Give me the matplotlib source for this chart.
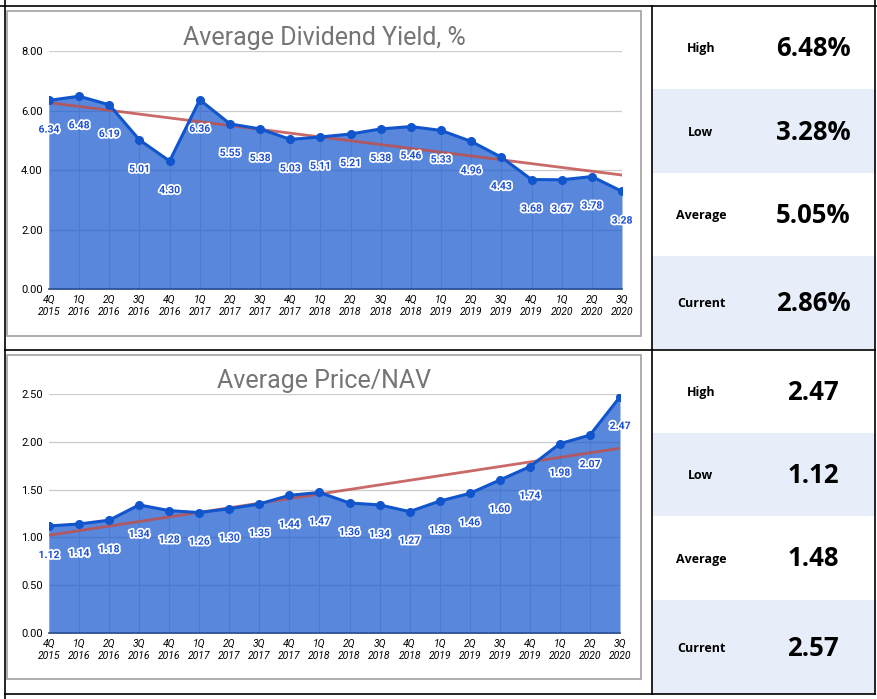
import numpy as np
import matplotlib
matplotlib.use('Agg')
import matplotlib.pyplot as plt
import matplotlib.patheffects as pe
from matplotlib.patches import Rectangle

plt.rcParams['font.family'] = ['Roboto', 'DejaVu Sans']

# data
quarters = ['4Q\n2015', '1Q\n2016', '2Q\n2016', '3Q\n2016', '4Q\n2016',
            '1Q\n2017', '2Q\n2017', '3Q\n2017', '4Q\n2017', '1Q\n2018',
            '2Q\n2018', '3Q\n2018', '4Q\n2018', '1Q\n2019', '2Q\n2019',
            '3Q\n2019', '4Q\n2019', '1Q\n2020', '2Q\n2020', '3Q\n2020']
yield_vals = [6.34, 6.48, 6.19, 5.01, 4.30, 6.36, 5.55, 5.38, 5.03, 5.11,
              5.21, 5.38, 5.46, 5.33, 4.96, 4.43, 3.68, 3.67, 3.78, 3.28]
pnav_vals = [1.12, 1.14, 1.18, 1.34, 1.28, 1.26, 1.30, 1.35, 1.44, 1.47,
             1.36, 1.34, 1.27, 1.38, 1.46, 1.60, 1.74, 1.98, 2.07, 2.47]
stat_names = ['High', 'Low', 'Average', 'Current']
yield_stats = ['6.48%', '3.28%', '5.05%', '2.86%']
pnav_stats = ['2.47', '1.12', '1.48', '2.57']

W, H = 878, 699
fig = plt.figure(figsize=(W / 100, H / 100), dpi=100)

# background layer in pixel coords for the table frame
bg = fig.add_axes([0, 0, 1, 1])
bg.set_xlim(0, W)
bg.set_ylim(H, 0)
bg.axis('off')


def px_axes(l, t, r, b):
    return fig.add_axes([l / W, 1 - b / H, (r - l) / W, (b - t) / H])


def draw_table(rows, values):
    for i, name in enumerate(stat_names):
        top, bot = rows[i], rows[i + 1]
        if i % 2 == 1:
            bg.add_patch(Rectangle((652, top), 223, bot - top, color='#e7eefa', lw=0, zorder=0))
        yc = (top + bot) / 2 + 1
        bg.text(701, yc, name, ha='center', va='center', fontsize=9,
                fontweight='bold', family=['Open Sans', 'DejaVu Sans'], color='black')
        bg.text(813, yc, values[i], ha='center', va='center', fontsize=18.5,
                fontweight='bold', family=['Open Sans', 'DejaVu Sans'], color='black')


draw_table([6, 89, 173, 256, 349], yield_stats)
draw_table([350, 433, 516, 600, 694], pnav_stats)

# table lines
lc = 'black'
bg.plot([0, 878], [6, 6], color=lc, lw=1.2)
bg.plot([5, 875], [349.5, 349.5], color=lc, lw=1.2)
bg.plot([5, 875], [694, 694], color=lc, lw=1.2)
bg.plot([5, 5], [0, 699], color=lc, lw=1.2)
bg.plot([652, 652], [6, 694], color=lc, lw=1.2)
bg.plot([875, 875], [0, 694], color=lc, lw=1.2)

# chart frames
bg.add_patch(Rectangle((7, 11), 634, 325, fill=False, edgecolor='#a0a0a0', lw=1.2))
bg.add_patch(Rectangle((7, 355), 634, 324, fill=False, edgecolor='#a0a0a0', lw=1.2))

bg.text(324, 45, 'Average Dividend Yield, %', ha='center', va='baseline',
        fontsize=18, color='#757575')
bg.text(324, 388, 'Average Price/NAV', ha='center', va='baseline',
        fontsize=18, color='#757575')


def draw_chart(ax, vals, ymax, step):
    x = np.arange(len(vals))
    ax.set_xlim(0, len(vals) - 1)
    ax.set_ylim(0, ymax)
    yt = np.arange(0, ymax + step / 2, step)
    ax.set_yticks(yt)
    ax.set_yticklabels([f'{v:.2f}' for v in yt], fontsize=8, color='black')
    ax.set_xticks(x)
    ax.set_xticklabels(quarters, fontstyle='italic', fontsize=7.5, linespacing=1.3,
                       color='black')
    ax.tick_params(length=0)
    ax.tick_params(axis='y', pad=4.5)
    ax.tick_params(axis='x', pad=4)
    for s in ax.spines.values():
        s.set_visible(False)
    ax.patch.set_alpha(0)
    for v in yt:
        ax.axhline(v, color='#cccccc', lw=0.9, zorder=0)
    # faint vertical lines visible only under the area
    ax.vlines(x, 0, vals, color='#d8d8d8', lw=0.8, zorder=0)
    ax.axhline(0, color='#444444', lw=1.2, zorder=1, clip_on=False)

    ax.fill_between(x, vals, color='#1155cc', alpha=0.7, lw=0, zorder=2)
    coef = np.polyfit(x, vals, 1)
    ax.plot(x, np.polyval(coef, x), color='#c0504d', lw=2, alpha=0.85, zorder=3)
    ax.plot(x, vals, color='#1155cc', lw=2.2, marker='o', ms=5.5, zorder=4)
    for xi, v in zip(x, vals):
        ax.annotate(f'{v:.2f}', (xi, v), xytext=(0, -21), textcoords='offset points',
                    ha='center', va='center', fontsize=7.5, fontweight='bold',
                    color='#1a4fd6', zorder=5, annotation_clip=False,
                    path_effects=[pe.withStroke(linewidth=2.5, foreground='white')])


ax1 = px_axes(49, 51, 622, 289)
draw_chart(ax1, yield_vals, 8, 2)

ax2 = px_axes(49, 394, 620, 633)
draw_chart(ax2, pnav_vals, 2.5, 0.5)

fig.savefig('out.png', dpi=100)
